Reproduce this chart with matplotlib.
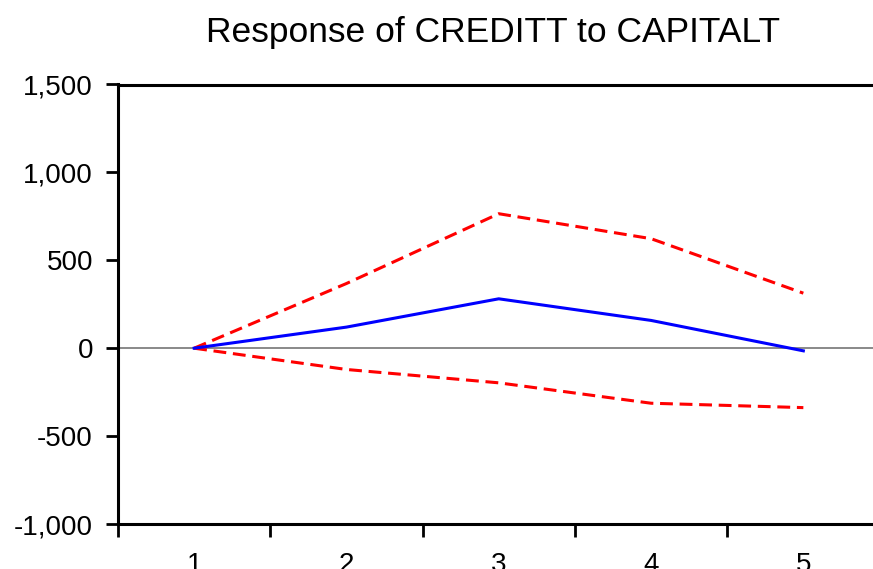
import matplotlib
matplotlib.use("Agg")
import matplotlib.pyplot as plt
from matplotlib.ticker import FixedLocator, FuncFormatter

plt.rcParams['font.family'] = ['Liberation Sans', 'DejaVu Sans']

periods = [1, 2, 3, 4, 5]
response = [0, 120, 281, 158, -15]
upper_band = [0, 368, 765, 623, 313]
lower_band = [0, -121, -197, -313, -338]
y_ticks = [-1000, -500, 0, 500, 1000, 1500]
title = "Response of CREDITT to CAPITALT"

fig = plt.figure(figsize=(8.73, 5.69), dpi=100)
ax = fig.add_axes([118 / 873, 1 - 524 / 569, (879.5 - 118) / 873, (524 - 84.5) / 569])

ax.axhline(0, color='#808080', lw=1.3, zorder=1)
ax.plot(periods, response, color='#0000ff', lw=2.2, zorder=3)
ax.plot(periods, upper_band, color='#ff0000', lw=2.2, dashes=(4.2, 2.2), zorder=2)
ax.plot(periods, lower_band, color='#ff0000', lw=2.2, dashes=(4.2, 2.2), zorder=2)

ax.set_xlim(0.5, 5.5)
ax.set_ylim(-1000, 1500)

ax.xaxis.set_major_locator(FixedLocator(periods))
ax.xaxis.set_minor_locator(FixedLocator([p - 0.5 for p in periods] + [5.5]))
ax.tick_params(axis='x', which='major', length=0, pad=20, labelsize=20)
ax.tick_params(axis='x', which='minor', length=9, width=2, direction='out')

ax.yaxis.set_major_locator(FixedLocator(y_ticks))
ax.yaxis.set_major_formatter(FuncFormatter(lambda v, _: f"{int(v):,}"))
ax.tick_params(axis='y', which='major', length=9, width=2, pad=9, labelsize=20)

for side in ['left', 'bottom', 'top', 'right']:
    ax.spines[side].set_linewidth(2.2)
    ax.spines[side].set_color('black')

fig.text(493.5 / 873, 1 - 42 / 569, title, ha='center', va='baseline', fontsize=25.5)

fig.savefig("out.png", dpi=100)
